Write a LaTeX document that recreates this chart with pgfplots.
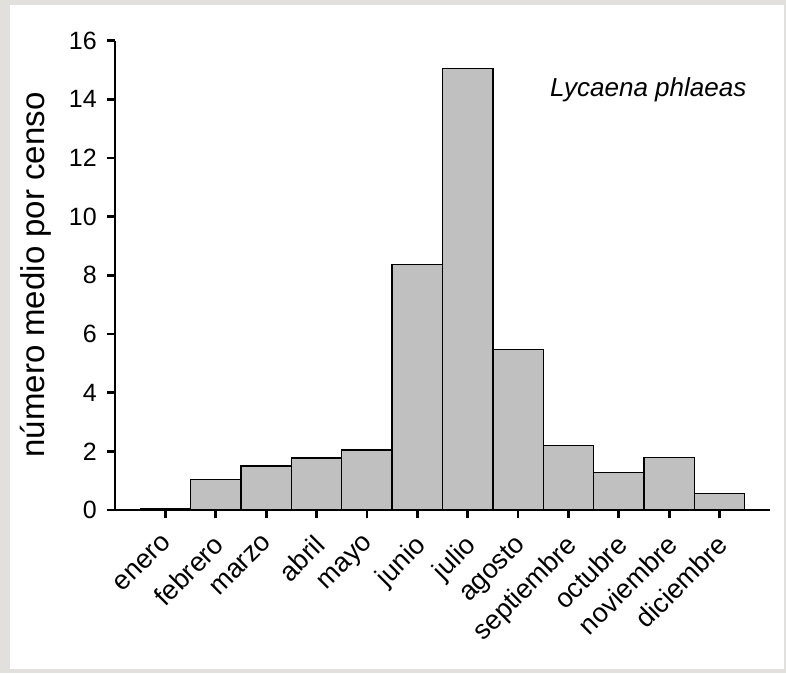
\documentclass[border=0pt]{standalone}
\usepackage{pgfplots}
\pgfplotsset{compat=1.18}
\usepackage{fontspec}
\setmainfont{Liberation Sans}
\definecolor{bgc}{HTML}{E2E0DC}
\definecolor{barc}{HTML}{C0C0C0}
\begin{document}
\begin{tikzpicture}[x=1pt,y=1pt]
\useasboundingbox (0,0) rectangle (786,673);
\fill[bgc] (0,0) rectangle (786,673);
\fill[white] (10,4) rectangle (784,668);
\begin{axis}[
  at={(115pt,163pt)}, anchor=south west,
  scale only axis, width=655pt, height=469.3pt,
  xmin=-1, xmax=12, ymin=0, ymax=16,
  axis x line=bottom, axis y line=left,
  axis line style={-, line width=2.6pt, black},
  tick align=outside, major tick length=8pt,
  major tick style={line width=2.8pt, black},
  xtick={0,...,11},
  xticklabels={enero,febrero,marzo,abril,mayo,junio,julio,agosto,septiembre,octubre,noviembre,diciembre},
  ytick={0,2,...,16},
  /pgf/number format/assume math mode=true,
  yticklabel style={font=\fontsize{25pt}{29pt}\selectfont, inner sep=0pt, xshift=-10pt},
  xticklabel style={font=\fontsize{27pt}{31pt}\selectfont, xshift=-4pt, yshift=-15pt, rotate=45, anchor=north east, inner sep=0pt},
  clip=false,
]
\addplot[ybar, bar width=1, fill=barc, draw=black, line width=1.3pt] coordinates {
(0,0.05) (1,1.05) (2,1.50) (3,1.77) (4,2.05) (5,8.38) (6,15.05) (7,5.48) (8,2.19) (9,1.27) (10,1.80) (11,0.56)
};
\node[anchor=base east, font=\fontsize{26pt}{30pt}\selectfont\itshape] at (axis cs:11.6,14.1) {Lycaena phlaeas};
\end{axis}
\node[rotate=90, anchor=base, font=\fontsize{33pt}{38pt}\selectfont] at (44,398) {número medio por censo};
\end{tikzpicture}
\end{document}
